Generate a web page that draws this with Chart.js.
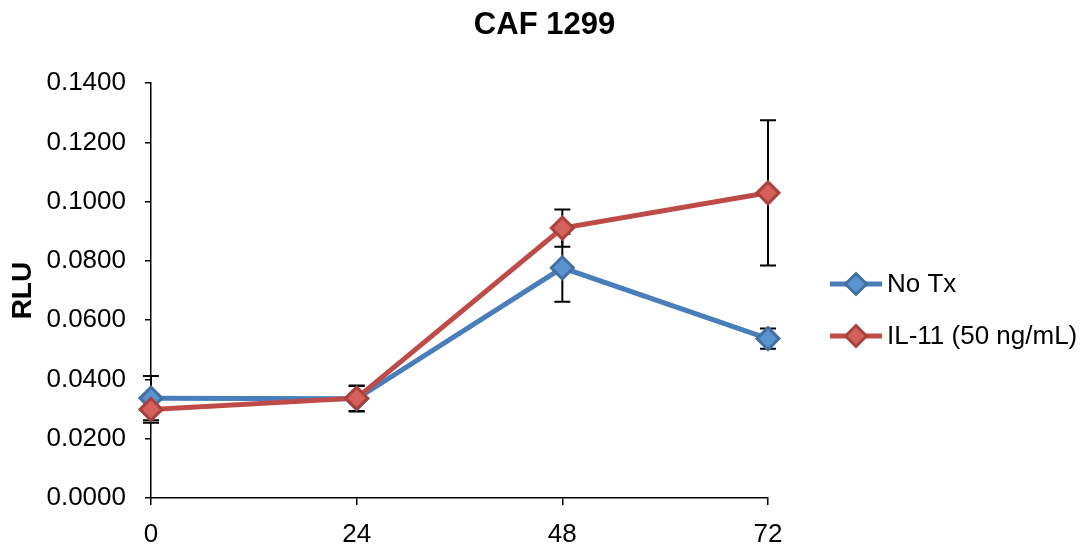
<!DOCTYPE html>
<html>
<head>
<meta charset="utf-8">
<script src="https://cdn.jsdelivr.net/npm/chart.js@4"></script>
<style>
  html, body { margin: 0; padding: 0; background: #fff; }
  #wrap { width: 1089px; height: 544px; }
</style>
</head>
<body>
<div id="wrap"><canvas id="caf" width="1089" height="544"></canvas></div>
<script>
const hours = [0, 24, 48, 72];
const noTx = [0.0337, 0.0335, 0.0777, 0.0538];
const noTxErr = [0.0075, 0.0043, 0.0115, 0.0034];
const il11 = [0.0299, 0.0337, 0.0911, 0.1030];
const il11Err = [0.0045, 0.0043, 0.0063, 0.0245];
const seriesNames = ['No Tx', 'IL-11 (50 ng/mL)'];

const FONT = "'Liberation Sans', Arial, sans-serif";

function points(values) {
    return hours.map((h, i) => ({ x: h, y: values[i] }));
}

// error bars, drawn under the markers
const errorBars = {
    id: 'errorBars',
    beforeDatasetsDraw(chart) {
        const ctx = chart.ctx;
        const xs = chart.scales.x;
        const ys = chart.scales.y;
        ctx.save();
        ctx.strokeStyle = '#000';
        ctx.lineWidth = 2;
        chart.data.datasets.forEach((ds) => {
            ds.data.forEach((p, i) => {
                const e = ds.errors[i];
                const x = xs.getPixelForValue(p.x);
                const top = ys.getPixelForValue(p.y + e);
                const bot = ys.getPixelForValue(p.y - e);
                ctx.beginPath();
                ctx.moveTo(x, top);
                ctx.lineTo(x, bot);
                ctx.moveTo(x - 8, top);
                ctx.lineTo(x + 8, top);
                ctx.moveTo(x - 8, bot);
                ctx.lineTo(x + 8, bot);
                ctx.stroke();
            });
        });
        ctx.restore();
    }
};

// legend in the Excel style: line with a marker
const sideLegend = {
    id: 'sideLegend',
    afterDraw(chart) {
        const ctx = chart.ctx;
        const rows = [284, 336];
        ctx.save();
        chart.data.datasets.forEach((ds, i) => {
            const y = rows[i];
            ctx.strokeStyle = ds.borderColor;
            ctx.lineWidth = 5;
            ctx.beginPath();
            ctx.moveTo(830, y);
            ctx.lineTo(882, y);
            ctx.stroke();
            ctx.fillStyle = ds.pointBackgroundColor;
            ctx.strokeStyle = ds.pointBorderColor;
            ctx.lineWidth = 3;
            Chart.helpers.drawPoint(ctx, { pointStyle: 'rectRot', radius: 10.5, rotation: 0, borderWidth: 3 }, 856, y);
            ctx.fillStyle = '#000';
            ctx.font = '26px ' + FONT;
            ctx.textBaseline = 'middle';
            ctx.textAlign = 'left';
            ctx.fillText(ds.label, 887, y + 1);
        });
        ctx.restore();
    }
};

new Chart(document.getElementById('caf'), {
    type: 'line',
    data: {
        datasets: [
            {
                label: seriesNames[0],
                data: points(noTx),
                errors: noTxErr,
                borderColor: '#4A7EBB',
                borderWidth: 5,
                pointStyle: 'rectRot',
                pointRadius: 11,
                pointBorderWidth: 3,
                pointBackgroundColor: '#5A93D2',
                pointBorderColor: '#42719F',
                tension: 0,
                clip: false,
                order: 1
            },
            {
                label: seriesNames[1],
                data: points(il11),
                errors: il11Err,
                borderColor: '#BE4B48',
                borderWidth: 5,
                pointStyle: 'rectRot',
                pointRadius: 11,
                pointBorderWidth: 3,
                pointBackgroundColor: '#D6605B',
                pointBorderColor: '#A9423E',
                tension: 0,
                clip: false,
                order: 0
            }
        ]
    },
    options: {
        responsive: false,
        animation: false,
        devicePixelRatio: 1,
        layout: { padding: 0 },
        plugins: {
            legend: { display: false },
            tooltip: { enabled: false },
            title: {
                display: true,
                text: 'CAF 1299',
                color: '#000',
                font: { family: FONT, size: 31, weight: 'bold' },
                padding: { top: 7, bottom: 39 }
            }
        },
        scales: {
            x: {
                type: 'linear',
                min: 0,
                max: 72,
                afterFit(scale) { scale.height = 46; },
                ticks: {
                    stepSize: 24,
                    color: '#000',
                    padding: 14,
                    font: { family: FONT, size: 26 }
                },
                grid: { drawOnChartArea: false, drawTicks: true, tickLength: 7, color: '#000', lineWidth: 1.5 },
                border: { color: '#000', width: 1.5 }
            },
            y: {
                min: 0,
                max: 0.14,
                afterFit(scale) { scale.width = 151; },
                ticks: {
                    stepSize: 0.02,
                    color: '#000',
                    padding: 19,
                    font: { family: FONT, size: 26 },
                    callback: (v) => v.toFixed(4)
                },
                grid: { drawOnChartArea: false, drawTicks: true, tickLength: 6, color: '#000', lineWidth: 1.5 },
                border: { color: '#000', width: 1.5 },
                title: {
                    display: true,
                    text: 'RLU',
                    color: '#000',
                    padding: { top: 6, bottom: 0 },
                    font: { family: FONT, size: 28, weight: 'bold' }
                }
            },
            // empty axis that only keeps room for the legend on the right
            legendRoom: {
                type: 'linear',
                position: 'right',
                afterFit(scale) { scale.width = 321; },
                ticks: { display: false },
                grid: { display: false },
                border: { display: false }
            }
        }
    },
    plugins: [errorBars, sideLegend]
});
</script>
</body>
</html>
